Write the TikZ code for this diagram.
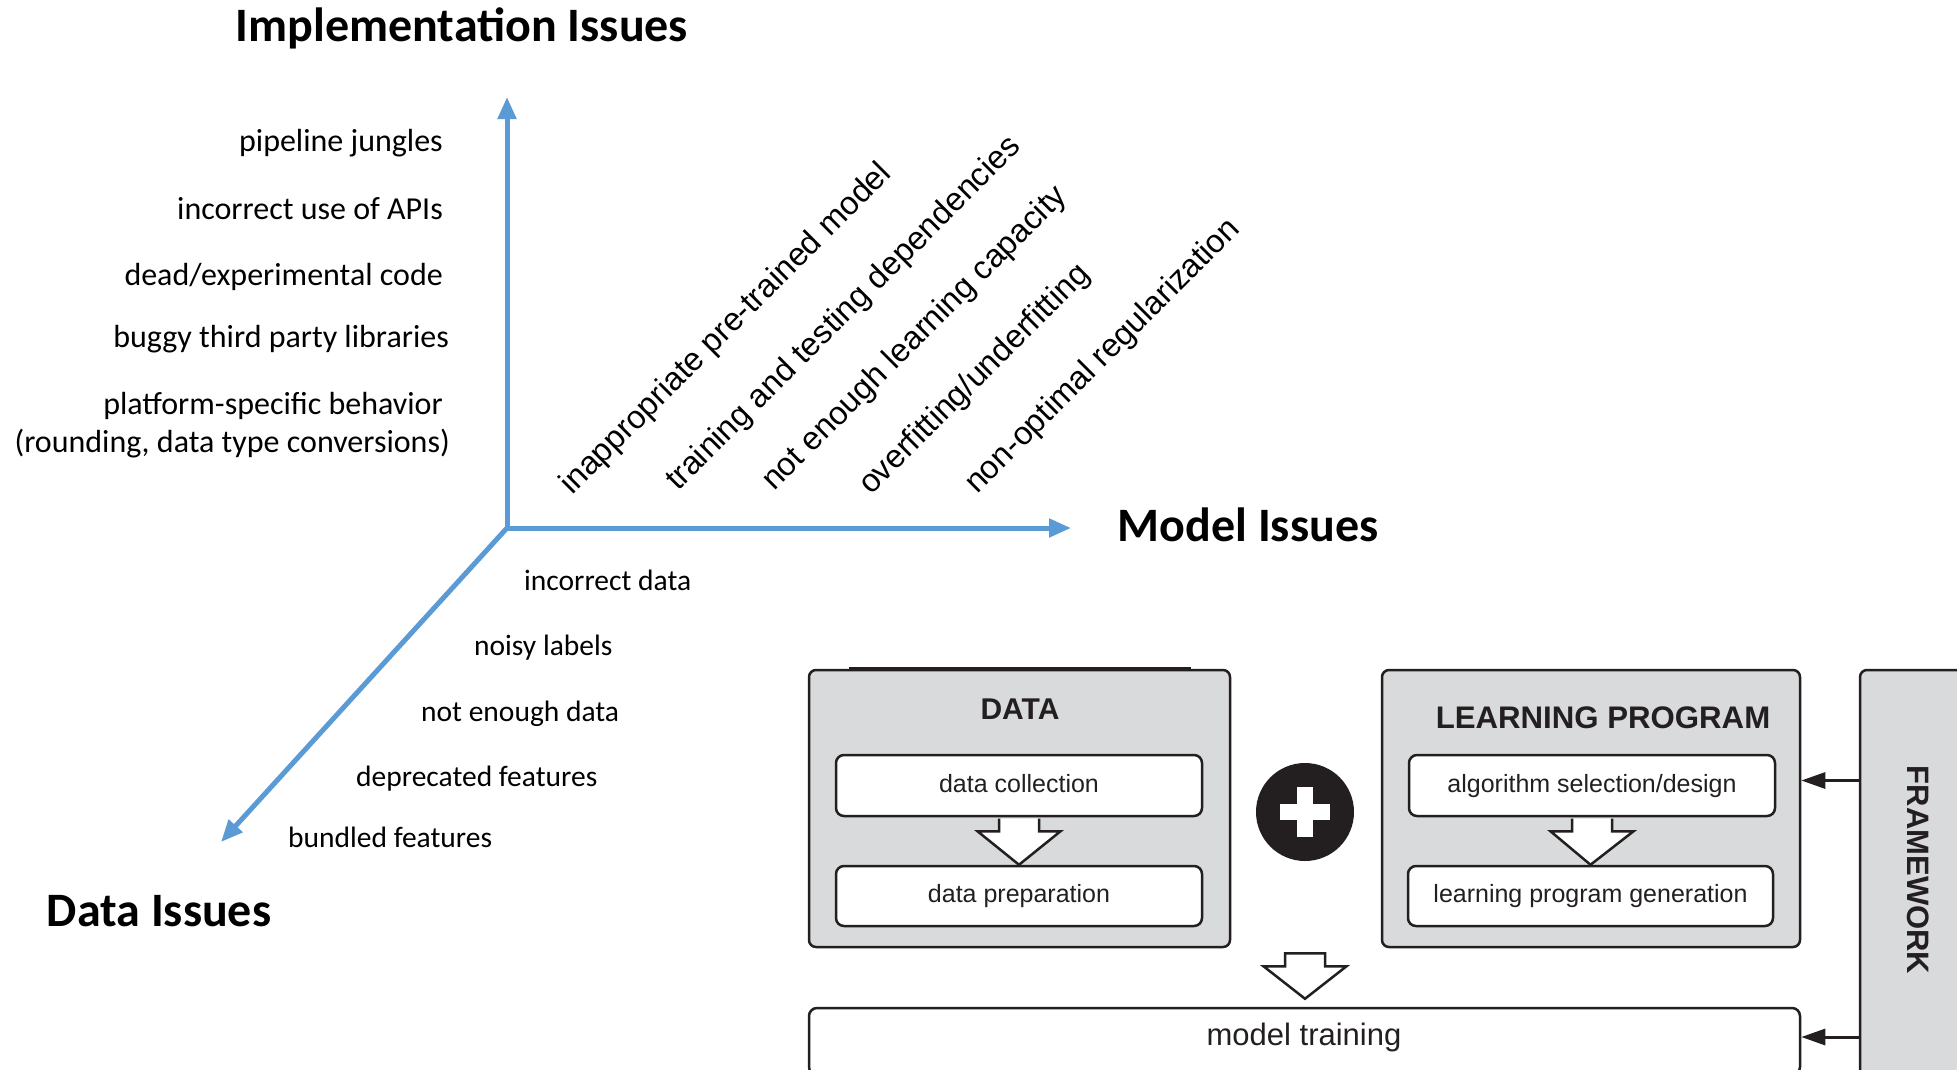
\documentclass[tikz,border=0pt]{standalone}
\usepackage{fontspec}
\setmainfont{Carlito}
\newfontfamily\arialfont{Liberation Sans}
\usetikzlibrary{arrows.meta,calc}

\definecolor{axisblue}{RGB}{91,155,213}
\definecolor{panelgray}{RGB}{217,218,220}
\definecolor{ink}{RGB}{35,31,32}

\begin{document}
\begin{tikzpicture}[x=1pt,y=-1pt,
  axis/.style={draw=axisblue, line width=5pt, line cap=rect, -{Triangle[length=22pt,width=18pt]}},
  heading/.style={inner sep=0pt, font=\fontsize{48}{56}\selectfont\bfseries},
  implissue/.style={inner sep=0pt, anchor=east, font=\fontsize{32}{38}\selectfont},
  dataissue/.style={inner sep=0pt, anchor=west, font=\fontsize{29.5}{35}\selectfont},
  modelissue/.style={inner sep=0pt, anchor=base west, rotate=45, font=\arialfont\fontsize{32.5}{38}\selectfont},
  panel/.style={draw=ink, line width=2.5pt, fill=panelgray, rounded corners=7pt},
  paneltitle/.style={inner sep=0pt, text=ink, font=\arialfont\fontsize{30}{36}\selectfont\bfseries},
  stepbox/.style={draw=ink, line width=2.5pt, fill=white, rounded corners=8pt, text=ink,
    text height=18pt, text depth=5pt, font=\arialfont\fontsize{25}{30}\selectfont},
  steplabel/.style={inner sep=0pt, text=ink, font=\arialfont\fontsize{31}{37}\selectfont},
  hollow/.style={draw=ink, line width=2.5pt, fill=white, line join=miter},
  feed/.style={draw=ink, line width=3pt, -{Triangle[length=24pt,width=16pt]}},
]
\clip (0,0) rectangle (1957,1069);
\fill[white] (0,0) rectangle (1957,1069);

% ---- three issue axes ----
\coordinate (O) at (507,528);
\coordinate (impltip) at (507,97);
\coordinate (modeltip) at (1071,528);
\coordinate (datatip) at (221,842);
\draw[axis] (O) -- (impltip);
\draw[axis] (O) -- (modeltip);
\draw[axis, line cap=butt] (O) -- (datatip);

\node[heading] (implhead) at (462,28) {Implementation Issues};
\node[heading] (modelhead) at (1248,525) {Model Issues};
\node[heading] (datahead) at (159,911) {Data Issues};

% implementation issues
\node[implissue] (impl1) at (443,143.5) {pipeline jungles};
\node[implissue] (impl2) at (443,209) {incorrect use of APIs};
\node[implissue] (impl3) at (443,276.5) {dead/experimental code};
\node[implissue] (impl4) at (449,339.5) {buggy third party libraries};
\node[implissue] (impl5) at (443,405.5) {platform-specific behavior};
\node[implissue] (impl6) at (450,443.5) {(rounding, data type conversions)};

% data issues
\node[dataissue] (data1) at (524,580) {incorrect data};
\node[dataissue] (data2) at (474,648) {noisy labels};
\node[dataissue] (data3) at (421,714) {not enough data};
\node[dataissue] (data4) at (356,779) {deprecated features};
\node[dataissue] (data5) at (288,837) {bundled features};

% model issues
\node[modelissue] (model1) at (572,496) {inappropriate pre-trained model};
\node[modelissue] (model2) at (678,492) {training and testing dependencies};
\node[modelissue] (model3) at (774,492) {not enough learning capacity};
\node[modelissue] (model4) at (871,496) {overfitting/underfitting};
\node[modelissue] (model5) at (977,495) {non-optimal regularization};

% ---- development workflow ----
\node[panel, minimum width=421pt, minimum height=277pt] (datapanel) at (1019.5,808.5) {};
\draw[ink, line width=4pt] ($(datapanel.north west)+(41,0)$) -- ($(datapanel.north east)+(-40,0)$);
\node[paneltitle] (datatitle) at (1020,709) {DATA};
\node[stepbox, minimum width=366pt, minimum height=61pt] (collect) at (1019,785.5) {data collection};
\node[stepbox, minimum width=366pt, minimum height=60pt] (prepare) at (1019,896) {data preparation};

\node[panel, minimum width=418pt, minimum height=277pt] (lppanel) at (1591,808.5) {};
\node[paneltitle, font=\arialfont\fontsize{31.2}{37}\selectfont\bfseries] (lptitle) at (1603,718) {LEARNING PROGRAM};
\node[stepbox, minimum width=366pt, minimum height=61pt] (algo) at (1592,785.5) {algorithm selection/design};
\node[stepbox, minimum width=365pt, minimum height=60pt] (gen) at (1590.5,896) {learning program generation};

\node[panel, minimum width=120pt, minimum height=420pt] (fw) at (1920,880) {};
\node[paneltitle, rotate=-90, font=\arialfont\fontsize{31}{37}\selectfont\bfseries] (fwtitle) at (1918,870) {FRAMEWORK};

\node[stepbox, minimum width=991pt, minimum height=67pt] (train) at (1304.5,1041.5) {};
\node[steplabel] (trainlabel) at (1304,1037) {model training};

% plus sign
\node[circle, fill=ink, minimum size=98pt, inner sep=0pt] (plus) at (1305,812) {};
\fill[white] ($(plus)+(-25,-8)$) rectangle ($(plus)+(25,8)$);
\fill[white] ($(plus)+(-8,-25)$) rectangle ($(plus)+(8,25)$);

% hollow flow arrows
\draw[hollow] ($(collect.south)+(-20,1.3)$) -- ($(collect.south)+(-20,14)$) -- ++(-21.5,0)
  -- (prepare.north) -- ($(collect.south)+(41.5,14)$) -- ++(-21.5,0) -- ($(collect.south)+(20,1.3)$);
\draw[hollow] ($(algo.south)+(-20,1.3)$) -- ($(algo.south)+(-20,14)$) -- ++(-21.5,0)
  -- (gen.north) -- ($(algo.south)+(41.5,14)$) -- ++(-21.5,0) -- ($(algo.south)+(20,1.3)$);
\coordinate (mergetop) at ($(plus |- datapanel.south)+(0,5)$);
\coordinate (mergetip) at ($(plus |- train.north)+(0,-8)$);
\draw[hollow] ($(mergetop)+(-20,0)$) -- ++(0,13) -- ++(-21.5,0) -- (mergetip)
  -- ($(mergetop)+(41.5,13)$) -- ++(-21.5,0) -- ++(0,-13) -- cycle;

% framework feeds
\draw[feed] ($(fw.west |- algo)+(0,-5)$) -- ($(lppanel.east |- algo)+(0,-5)$);
\draw[feed] ($(fw.west |- trainlabel)$) -- ($(train.east |- trainlabel)$);
\end{tikzpicture}
\end{document}
